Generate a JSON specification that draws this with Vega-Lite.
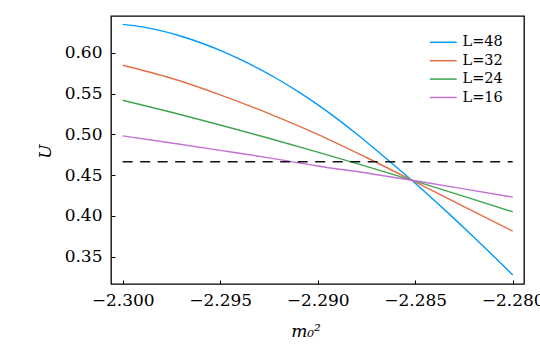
{
  "$schema": "https://vega.github.io/schema/vega-lite/v6.json",
  "width": 413,
  "height": 268,
  "autosize": {"type": "none"},
  "padding": {"left": 111, "top": 16, "right": 16, "bottom": 76},
  "background": "white",
  "config": {
    "view": {"stroke": "#000", "strokeWidth": 1.3},
    "font": "DejaVu Serif"
  },
  "datasets": {
    "curves": [
      {"m": -2.300, "U": 0.6349, "L": "L=48"},
      {"m": -2.299, "U": 0.6318, "L": "L=48"},
      {"m": -2.298, "U": 0.6269, "L": "L=48"},
      {"m": -2.297, "U": 0.6204, "L": "L=48"},
      {"m": -2.296, "U": 0.6124, "L": "L=48"},
      {"m": -2.295, "U": 0.6030, "L": "L=48"},
      {"m": -2.294, "U": 0.5922, "L": "L=48"},
      {"m": -2.293, "U": 0.5803, "L": "L=48"},
      {"m": -2.292, "U": 0.5670, "L": "L=48"},
      {"m": -2.291, "U": 0.5525, "L": "L=48"},
      {"m": -2.290, "U": 0.5365, "L": "L=48"},
      {"m": -2.289, "U": 0.5190, "L": "L=48"},
      {"m": -2.288, "U": 0.5005, "L": "L=48"},
      {"m": -2.287, "U": 0.4808, "L": "L=48"},
      {"m": -2.286, "U": 0.4606, "L": "L=48"},
      {"m": -2.285, "U": 0.4400, "L": "L=48"},
      {"m": -2.284, "U": 0.4186, "L": "L=48"},
      {"m": -2.283, "U": 0.3966, "L": "L=48"},
      {"m": -2.282, "U": 0.3740, "L": "L=48"},
      {"m": -2.281, "U": 0.3510, "L": "L=48"},
      {"m": -2.280, "U": 0.3275, "L": "L=48"},
      {"m": -2.300, "U": 0.5848, "L": "L=32"},
      {"m": -2.2975, "U": 0.5688, "L": "L=32"},
      {"m": -2.295, "U": 0.5485, "L": "L=32"},
      {"m": -2.2925, "U": 0.5255, "L": "L=32"},
      {"m": -2.290, "U": 0.5001, "L": "L=32"},
      {"m": -2.2875, "U": 0.4716, "L": "L=32"},
      {"m": -2.285, "U": 0.4417, "L": "L=32"},
      {"m": -2.2825, "U": 0.4114, "L": "L=32"},
      {"m": -2.280, "U": 0.3814, "L": "L=32"},
      {"m": -2.300, "U": 0.5419, "L": "L=24"},
      {"m": -2.2975, "U": 0.5271, "L": "L=24"},
      {"m": -2.295, "U": 0.5115, "L": "L=24"},
      {"m": -2.2925, "U": 0.4952, "L": "L=24"},
      {"m": -2.290, "U": 0.4782, "L": "L=24"},
      {"m": -2.2875, "U": 0.4607, "L": "L=24"},
      {"m": -2.285, "U": 0.4426, "L": "L=24"},
      {"m": -2.2825, "U": 0.4240, "L": "L=24"},
      {"m": -2.280, "U": 0.4050, "L": "L=24"},
      {"m": -2.300, "U": 0.4982, "L": "L=16"},
      {"m": -2.2975, "U": 0.4894, "L": "L=16"},
      {"m": -2.295, "U": 0.4804, "L": "L=16"},
      {"m": -2.2925, "U": 0.4712, "L": "L=16"},
      {"m": -2.290, "U": 0.4612, "L": "L=16"},
      {"m": -2.2875, "U": 0.4525, "L": "L=16"},
      {"m": -2.285, "U": 0.4430, "L": "L=16"},
      {"m": -2.2825, "U": 0.4331, "L": "L=16"},
      {"m": -2.280, "U": 0.4230, "L": "L=16"}
    ],
    "ref": [
      {"m": -2.300, "U": 0.4663},
      {"m": -2.280, "U": 0.4663}
    ]
  },
  "layer": [
    {
      "data": {"name": "curves"},
      "mark": {"type": "line", "interpolate": "monotone", "strokeWidth": 1.4},
      "encoding": {
        "x": {
          "field": "m", "type": "quantitative",
          "scale": {"domain": [-2.3006, -2.27942], "nice": false, "zero": false},
          "axis": {
            "values": [-2.300, -2.295, -2.290, -2.285, -2.280],
            "format": ".3f",
            "title": "m₀²",
            "grid": false, "domain": false,
            "tickSize": -4, "tickColor": "#000", "tickWidth": 1,
            "labelFont": "DejaVu Serif",
            "labelFontSize": 17, "labelColor": "#000", "labelPadding": 12, "labelFlush": false,
            "titleFont": "DejaVu Serif",
            "titleFontSize": 17, "titleFontStyle": "italic", "titleFontWeight": "normal", "titleColor": "#000",
            "titleX": 194.5, "titleY": 47, "titleBaseline": "middle", "titleAlign": "center"
          }
        },
        "y": {
          "field": "U", "type": "quantitative",
          "scale": {"domain": [0.3164, 0.6452], "nice": false, "zero": false},
          "axis": {
            "values": [0.35, 0.40, 0.45, 0.50, 0.55, 0.60],
            "format": ".2f",
            "title": "U",
            "grid": false, "domain": false,
            "tickSize": -4, "tickColor": "#000", "tickWidth": 1,
            "labelFont": "DejaVu Serif",
            "labelFontSize": 17, "labelColor": "#000", "labelPadding": 13,
            "titleFont": "DejaVu Serif",
            "titleFontSize": 17, "titleFontStyle": "italic", "titleFontWeight": "normal", "titleColor": "#000",
            "titleX": -66, "titleY": 135, "titleAngle": -90, "titleBaseline": "middle", "titleAlign": "center"
          }
        },
        "color": {
          "field": "L", "type": "nominal",
          "scale": {"domain": ["L=48", "L=32", "L=24", "L=16"], "range": ["#009AFA", "#E36F47", "#3EA44E", "#C371D2"]},
          "legend": {
            "orient": "none", "legendX": 324.75, "legendY": 18.8,
            "title": null, "padding": 0,
            "symbolType": "M-2,0L2,0", "symbolSize": 182, "symbolStrokeWidth": 1.5,
            "labelFont": "DejaVu Serif",
            "labelFontSize": 14.5, "labelColor": "#000", "labelOffset": 11.75,
            "rowPadding": 3.4
          }
        }
      }
    },
    {
      "data": {"name": "ref"},
      "mark": {"type": "line", "strokeDash": [10, 7.5], "color": "#111", "strokeWidth": 1.5},
      "encoding": {
        "x": {"field": "m", "type": "quantitative"},
        "y": {"field": "U", "type": "quantitative"}
      }
    }
  ]
}
